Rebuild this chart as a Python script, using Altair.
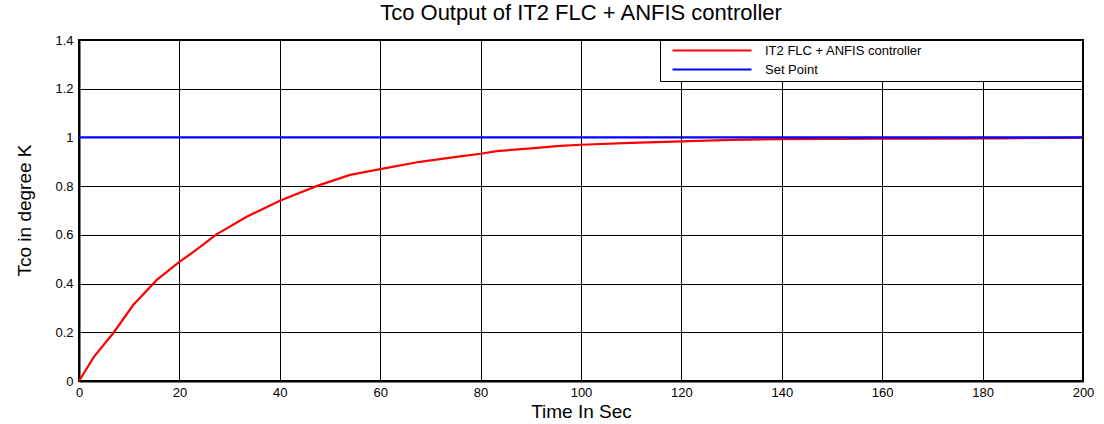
import altair as alt
import pandas as pd

time_ctrl = [0, 3, 6.8, 10.8, 15.5, 19.8, 22.8, 27.4, 33.4, 40, 47.3, 54, 60, 67.9, 75.9,
             80, 83.2, 90, 95.8, 100, 110, 120, 130, 140, 150, 160, 170, 183, 200]
tco_ctrl = [0, 0.10, 0.196, 0.312, 0.415, 0.486, 0.53, 0.602, 0.674, 0.74, 0.80, 0.846, 0.87,
            0.90, 0.922, 0.933, 0.944, 0.955, 0.965, 0.970, 0.978, 0.984, 0.990, 0.993, 0.994,
            0.995, 0.995, 0.996, 0.999]
time_sp = [0, 200]
tco_sp = [1, 1]

series_names = ["IT2 FLC + ANFIS controller", "Set Point"]
series_colors = ["#ff0000", "#0000ff"]
x_ticks = [0, 20, 40, 60, 80, 100, 120, 140, 160, 180, 200]
y_ticks = [0, 0.2, 0.4, 0.6, 0.8, 1, 1.2, 1.4]

df = pd.concat([
    pd.DataFrame({"t": time_ctrl, "v": tco_ctrl, "s": series_names[0]}),
    pd.DataFrame({"t": time_sp, "v": tco_sp, "s": series_names[1]}),
])

FONT = "Liberation Sans"
pad = "\u00a0" * 43 + "\u200b"

chart = alt.Chart(df).mark_line(strokeWidth=2.2).encode(
    x=alt.X("t:Q", scale=alt.Scale(domain=[0, 200], nice=False),
            axis=alt.Axis(values=x_ticks, title="Time In Sec", titleY=36,
                          titleBaseline="alphabetic", labelPadding=5, labelFlush=False)),
    y=alt.Y("v:Q", scale=alt.Scale(domain=[0, 1.4], nice=False),
            axis=alt.Axis(values=y_ticks, format=".1~f", title="Tco in degree K",
                          titleX=-49, titleY=170, titleBaseline="alphabetic",
                          titleAngle=-90, labelPadding=6, labelFlush=False)),
    color=alt.Color("s:N", scale=alt.Scale(domain=series_names, range=series_colors),
                    legend=alt.Legend(title=None, orient="none", legendX=581, legendY=0,
                                      strokeColor="black", fillColor="white", padding=4,
                                      symbolType="M-7.9,0H7.9", symbolSize=100,
                                      symbolOffset=41.5,
                                      symbolStrokeWidth=2, labelFontSize=13, labelFont=FONT,
                                      labelColor="black", labelOffset=46.5, rowPadding=5,
                                      labelLimit=1000,
                                      labelExpr="datum.label + '" + pad + "'")),
).properties(
    width=1004,
    height=341,
    background="white",
    title=alt.TitleParams("Tco Output of  IT2 FLC + ANFIS controller", fontSize=22,
                          font=FONT, fontWeight="normal", color="black", anchor="middle",
                          offset=9),
    autosize=alt.AutoSizeParams(type="none"),
    padding={"left": 79, "top": 40, "right": 21, "bottom": 43},
).configure_view(
    stroke="black", strokeWidth=2
).configure_axis(
    grid=True, gridColor="black", gridOpacity=1, gridWidth=1,
    domainColor="black", domainWidth=2, ticks=False,
    labelFont=FONT, labelFontSize=13, labelColor="black",
    titleFont=FONT, titleFontSize=19, titleFontWeight="normal", titleColor="black",
)

chart.save("out.html", embed_options={"renderer": "svg", "actions": False})
